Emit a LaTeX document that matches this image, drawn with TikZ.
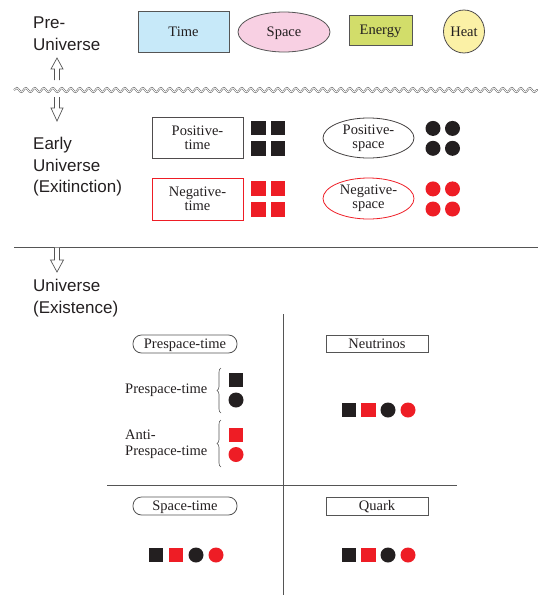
\documentclass[tikz,border=0pt]{standalone}
\usepackage{fontspec}
\setmainfont{Liberation Serif}
\setsansfont{Liberation Sans}
\usetikzlibrary{shapes.geometric,decorations.pathmorphing,decorations.pathreplacing}
\definecolor{myred}{HTML}{EE1D25}
\definecolor{myblack}{HTML}{231F20}
\definecolor{timeblue}{HTML}{C7E9F9}
\definecolor{spacepink}{HTML}{F8D0E3}
\definecolor{energygreen}{HTML}{D2DD6A}
\definecolor{heatyellow}{HTML}{FBF1A6}
\definecolor{edgegray}{HTML}{555555}
\begin{document}
\begin{tikzpicture}[x=1pt,y=-1pt,
  txt/.style={font=\fontsize{14.5}{14}\selectfont, text=myblack, align=center, inner sep=0},
  oneline/.style={text height=9.6pt, text depth=0pt},
  hdr/.style={font=\sffamily\fontsize{17}{21.5}\selectfont, text=myblack, align=left, anchor=north west, inner sep=0},
  rbox/.style={txt, draw=edgegray, line width=0.8pt, rectangle},
  ebox/.style={txt, draw=edgegray, line width=0.8pt, ellipse},
  pill/.style={txt, draw=edgegray, line width=0.8pt, rectangle, rounded corners=8.5pt},
  sqb/.style={fill=myblack, rectangle, minimum size=14.5, inner sep=0},
  sqr/.style={sqb, fill=myred},
  dotb/.style={fill=myblack, circle, minimum size=15, inner sep=0},
  dotr/.style={dotb, fill=myred},
  divider/.style={draw=edgegray, line width=0.9pt},
  hollowarrow/.style={draw=edgegray, line width=0.7pt, fill=white, line join=miter},
  bracestyle/.style={draw=edgegray, line width=0.6pt, decorate, decoration={brace, amplitude=4pt}}
]
\useasboundingbox (0,0) rectangle (538,595);

% ---------- Pre-Universe ----------
\node[hdr] (preuni) at (33,17) {Pre-\\Universe};
\node[rbox, oneline, fill=timeblue, minimum width=91, minimum height=41] (time) at (183.5,31.5) {Time};
\node[ebox, oneline, fill=spacepink, minimum width=92, minimum height=40] (space) at (284,32) {Space};
\node[rbox, oneline, fill=energygreen, minimum width=63, minimum height=30] (energy) at (380.5,30) {Energy};
\node[ebox, oneline, fill=heatyellow, minimum width=41, minimum height=43, draw=myblack!80] (heat) at (464,31.5) {Heat};

% up arrow
\coordinate (upbase) at (57,80);
\draw[hollowarrow] (54.5,80) -- (54.5,69) -- (51,69) -- (57,58) -- (63,69) -- (59.5,69) -- (59.5,80);

% wavy boundary
\coordinate (wavel) at (14,90);
\coordinate (waver) at (538,90);
\draw[draw=edgegray, line width=0.5pt, double=white, double distance=0.8pt,
      decorate, decoration={snake, segment length=9pt, amplitude=2pt}] (wavel) -- (waver);

% down arrow 1
\draw[hollowarrow] (54.5,97) -- (54.5,108) -- (51,108) -- (57,121) -- (63,108) -- (59.5,108) -- (59.5,97);

% ---------- Early Universe ----------
\node[hdr] (early) at (33,137) {Early\\Universe\\(Exitinction)};

\node[rbox, minimum width=91, minimum height=41, draw=myblack!80] (ptime) at (197.5,137.5) {Positive-\\time};
\node[sqb] (pt1) at (258.7,128) {};
\node[sqb] (pt2) at (278.2,128) {};
\node[sqb] (pt3) at (258.7,148.3) {};
\node[sqb] (pt4) at (278.2,148.3) {};

\node[ebox, minimum width=91, minimum height=40, draw=myblack!85] (pspace) at (368.5,138) {Positive-\\space};
\node[dotb] (ps1) at (433,128.4) {};
\node[dotb] (ps2) at (452.5,128.4) {};
\node[dotb] (ps3) at (433,148.3) {};
\node[dotb] (ps4) at (452.5,148.3) {};

\node[rbox, minimum width=91, minimum height=42, draw=myred] (ntime) at (197.5,199) {Negative-\\time};
\node[sqr] (nt1) at (258.7,188.6) {};
\node[sqr] (nt2) at (278.2,188.6) {};
\node[sqr] (nt3) at (258.7,209.4) {};
\node[sqr] (nt4) at (278.2,209.4) {};

\node[ebox, minimum width=91, minimum height=41, draw=myred] (nspace) at (368.5,198.5) {Negative-\\space};
\node[dotr] (ns1) at (433,188.9) {};
\node[dotr] (ns2) at (452.5,188.9) {};
\node[dotr] (ns3) at (433,209) {};
\node[dotr] (ns4) at (452.5,209) {};

% separator line
\coordinate (sepl) at (14,247);
\coordinate (sepr) at (538,247);
\draw[divider] (sepl) -- (sepr);

% down arrow 2
\draw[hollowarrow] (54.5,247.5) -- (54.5,260) -- (50.5,260) -- (57,272) -- (63.5,260) -- (59.5,260) -- (59.5,247.5);

% ---------- Universe (Existence) ----------
\node[hdr] (exist) at (33,279) {Universe\\(Existence)};

% quadrant lines
\coordinate (vtop) at (283,314);
\coordinate (vbot) at (283,595);
\coordinate (hl) at (107,485);
\coordinate (hr) at (457,485);
\draw[divider] (vtop) -- (vbot);
\draw[divider] (hl) -- (hr);

% top-left quadrant
\node[pill, oneline, minimum width=104, minimum height=18] (prespace) at (185,344) {Prespace-time};
\node[txt, anchor=base west] (prelbl) at (125,393) {Prespace-time};
\node[txt, anchor=north west, align=left, font=\fontsize{14.5}{16}\selectfont] (antilbl) at (125,430) {Anti-\\Prespace-time};
\coordinate (br1b) at (221,413);
\coordinate (br1t) at (221,368);
\coordinate (br2b) at (221,467);
\coordinate (br2t) at (221,420);
\draw[bracestyle] (br1b) -- (br1t);
\draw[bracestyle] (br2b) -- (br2t);
\node[sqb] (psq) at (236,380) {};
\node[dotb] (pdot) at (236,400) {};
\node[sqr] (asq) at (236,435) {};
\node[dotr] (adot) at (236,454.5) {};

% top-right quadrant
\node[rbox, oneline, minimum width=102, minimum height=17] (neutrinos) at (377,343.5) {Neutrinos};
\node[sqb] (n1) at (349,410) {};
\node[sqr] (n2) at (368.5,410) {};
\node[dotb] (n3) at (388,410) {};
\node[dotr] (n4) at (408,410) {};

% bottom-left quadrant
\node[pill, oneline, minimum width=104, minimum height=18] (spacetime) at (185,506) {Space-time};
\node[sqb] (s1) at (156,555) {};
\node[sqr] (s2) at (176,555) {};
\node[dotb] (s3) at (196,555) {};
\node[dotr] (s4) at (216,555) {};

% bottom-right quadrant
\node[rbox, oneline, minimum width=102, minimum height=18] (quark) at (377,506) {Quark};
\node[sqb] (q1) at (349,555) {};
\node[sqr] (q2) at (368.5,555) {};
\node[dotb] (q3) at (388,555) {};
\node[dotr] (q4) at (408,555) {};
\end{tikzpicture}
\end{document}
